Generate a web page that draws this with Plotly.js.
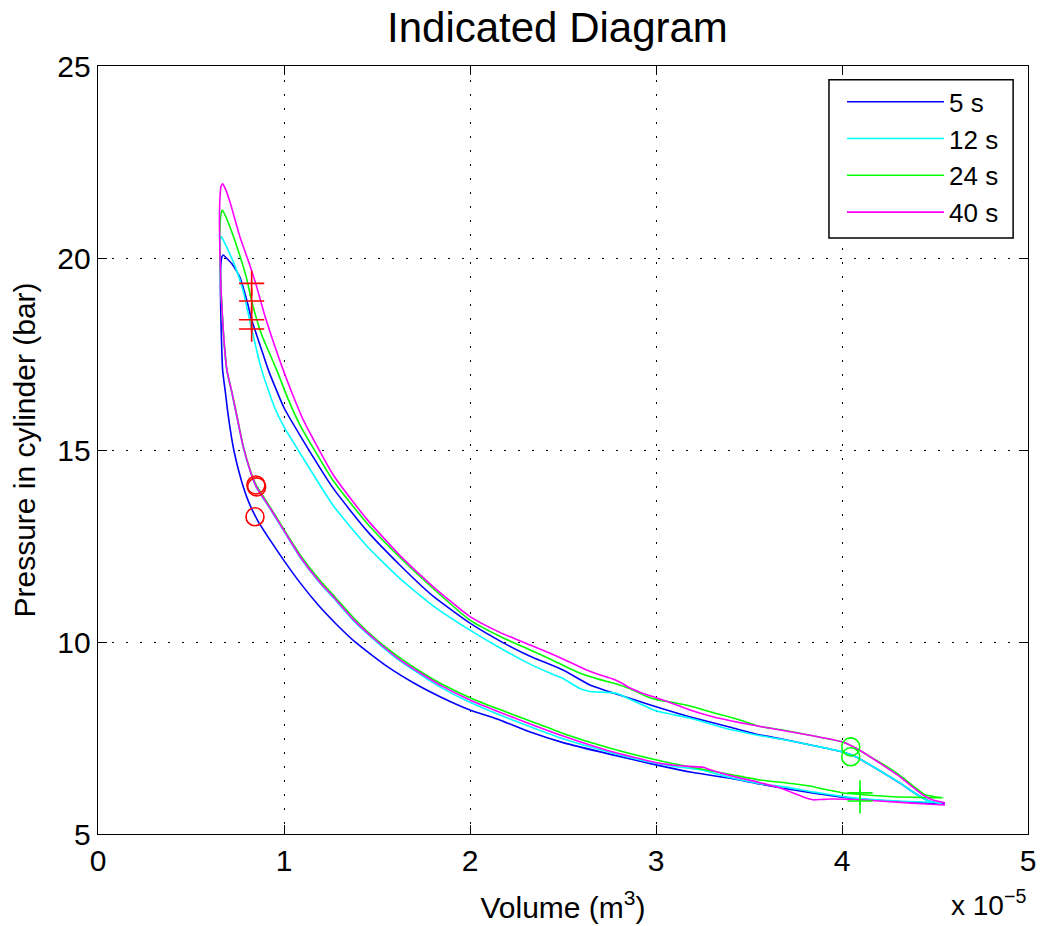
<!DOCTYPE html>
<html>
<head>
<meta charset="utf-8">
<script src="https://cdn.plot.ly/plotly-3.0.1.min.js"></script>
<style>html,body{margin:0;padding:0;background:#fff}#chart{width:1040px;height:926px}</style>
</head>
<body>
<div id="chart"></div>
<script>
// Volume in units of 1e-5 m^3, pressure in bar
const names = ['5 s', '12 s', '24 s', '40 s'];
const colors = ['#0000ff', '#00ffff', '#00ff00', '#ff00ff'];

const v5 = [4.55,4.50,4.40,4.25,4.10,4.00,3.85,3.70,3.56,3.40,3.20,3.00,2.75,2.50,2.32,2.16,2.00,1.85,1.71,1.55,1.38,1.28,1.19,1.09,1.00,0.93,0.86,0.81,0.77,0.73,0.70,0.685,0.670,0.662,0.658,0.660,0.666,0.674,
  0.69,0.72,0.763,0.80,0.826,0.87,0.916,1.00,1.09,1.265,1.445,1.624,1.80,2.00,2.16,2.32,2.50,2.645,2.77,2.88,3.00,3.18,3.40,3.56,3.67,3.85,4.00,4.08,4.15,4.23,4.31,4.38,4.455,4.51,4.55];
const p5 = [5.79,5.80,5.82,5.86,5.91,5.96,6.06,6.18,6.30,6.45,6.60,6.80,7.08,7.38,7.66,7.97,8.23,8.55,8.90,9.38,10.01,10.47,10.93,11.52,12.12,12.62,13.15,13.65,14.22,15.0,15.9,16.5,17.08,18.2,19.2,19.8,20.03,20.08,
  20.0,19.85,19.5,18.9,18.39,17.75,17.08,16.1,15.35,14.0,12.9,12.0,11.2,10.49,10.03,9.635,9.27,8.88,8.67,8.50,8.315,8.055,7.78,7.578,7.48,7.30,7.143,7.0,6.80,6.57,6.33,6.10,5.885,5.807,5.79];

const v12 = [4.54,4.40,4.25,4.10,4.00,3.85,3.70,3.56,3.40,3.25,3.10,3.00,2.75,2.50,2.32,2.16,2.00,1.85,1.75,1.62,1.505,1.38,1.265,1.194,1.09,1.00,0.93,0.85,0.817,0.78,0.75,0.72,0.693,0.675,0.663,0.656,0.655,0.658,0.664,
  0.675,0.70,0.74,0.78,0.826,0.88,0.95,1.00,1.086,1.265,1.445,1.624,1.80,2.00,2.16,2.32,2.43,2.50,2.59,2.645,2.72,2.79,2.86,3.00,3.18,3.40,3.56,3.667,3.85,4.00,4.08,4.151,4.23,4.312,4.38,4.455,4.509,4.54];
const p12 = [5.82,5.84,5.87,5.92,5.98,6.09,6.22,6.31,6.47,6.66,6.76,6.84,7.13,7.48,7.80,8.10,8.43,8.80,9.10,9.52,9.97,10.52,11.15,11.53,12.18,12.88,13.43,14.04,14.46,15.08,15.78,16.48,17.06,17.98,18.98,19.9,20.3,20.5,20.55,
  20.45,20.2,19.75,19.15,18.15,17.08,16.1,15.6,14.92,13.55,12.5,11.65,10.95,10.31,9.85,9.43,9.19,9.05,8.79,8.71,8.69,8.66,8.51,8.21,8.02,7.72,7.56,7.474,7.30,7.143,7.0,6.80,6.57,6.33,6.10,5.885,5.807,5.80];

const v24 = [4.543,4.40,4.274,4.15,4.05,3.998,3.90,3.828,3.70,3.559,3.40,3.20,3.004,2.75,2.50,2.32,2.16,2.00,1.85,1.75,1.62,1.505,1.38,1.265,1.194,1.09,1.00,0.93,0.85,0.817,0.78,0.75,0.72,0.693,0.675,0.663,0.656,0.655,0.66,0.668,
  0.685,0.71,0.75,0.80,0.826,0.88,0.961,1.02,1.086,1.265,1.445,1.624,1.80,2.00,2.16,2.32,2.43,2.59,2.70,2.77,2.86,2.95,3.004,3.10,3.183,3.30,3.45,3.56,3.667,3.85,4.00,4.08,4.151,4.24,4.322,4.39,4.445,4.50,4.543];
const p24 = [5.94,5.955,5.971,6.01,6.05,6.076,6.17,6.25,6.33,6.406,6.55,6.73,6.927,7.24,7.62,7.95,8.24,8.55,8.9,9.18,9.6,10.03,10.6,11.22,11.6,12.25,12.93,13.48,14.09,14.5,15.12,15.82,16.5,17.08,18.0,19.0,20.0,20.7,21.1,21.25,
  21.1,20.8,20.25,19.45,18.88,18.0,17.08,16.35,15.65,14.2,13.1,12.2,11.4,10.57,10.15,9.80,9.56,9.19,9.02,8.93,8.78,8.58,8.50,8.42,8.333,8.17,7.97,7.80,7.72,7.55,7.40,7.22,7.013,6.76,6.49,6.22,6.02,5.97,5.94];

const v40 = [4.554,4.45,4.30,4.10,3.94,3.89,3.844,3.80,3.737,3.667,3.56,3.40,3.30,3.253,3.18,3.10,3.004,2.75,2.50,2.32,2.16,2.00,1.85,1.75,1.62,1.505,1.38,1.265,1.194,1.09,1.00,0.93,0.85,0.817,0.78,0.75,0.72,0.693,0.675,0.663,0.656,0.653,0.655,0.661,0.67,
  0.685,0.71,0.763,0.81,0.85,0.90,0.996,1.05,1.104,1.265,1.445,1.624,1.80,2.00,2.16,2.323,2.43,2.50,2.627,2.70,2.769,2.82,2.86,2.93,3.004,3.10,3.183,3.30,3.45,3.56,3.667,3.85,4.00,4.08,4.151,4.23,4.312,4.38,4.435,4.489,4.554];
const p40 = [5.755,5.78,5.83,5.89,5.91,5.90,5.89,5.95,6.07,6.20,6.336,6.52,6.66,6.74,6.76,6.79,6.857,7.16,7.55,7.87,8.17,8.49,8.85,9.14,9.55,10.0,10.55,11.18,11.55,12.2,12.9,13.45,14.05,14.48,15.1,15.8,16.5,17.08,18.0,19.0,20.0,20.9,21.5,21.85,21.93,
  21.8,21.45,20.55,19.9,19.3,18.45,17.08,16.4,15.78,14.35,13.2,12.25,11.45,10.66,10.25,9.92,9.71,9.56,9.27,9.14,9.036,8.92,8.80,8.66,8.542,8.38,8.229,8.06,7.90,7.80,7.71,7.55,7.40,7.22,7.013,6.76,6.49,6.22,6.016,5.885,5.81];

// event markers
const redPlusV = [0.826, 0.826, 0.826, 0.826];
const redPlusP = [19.34, 18.88, 18.39, 18.15];
const redCircV = [0.849, 0.853, 0.844];
const redCircP = [14.09, 14.04, 13.26];
const greenCircV = [4.047, 4.047];
const greenCircP = [7.27, 7.01];
const greenPlusV = [4.097, 4.097];
const greenPlusP = [6.07, 5.86];

const xTicks = [0, 1, 2, 3, 4, 5];
const yTicks = [5, 10, 15, 20, 25];

const font = 'Liberation Sans, Arial, Helvetica, sans-serif';
const series = [[v5,p5],[v12,p12],[v24,p24],[v40,p40]];
const traces = series.map((s, i) => ({
  x: s[0], y: s[1], type: 'scatter', mode: 'lines', name: names[i],
  line: {color: colors[i], width: 1.6, shape: 'spline', smoothing: 0.5}
}));
function mk(x, y, sym, col) {
  return {x: x, y: y, type: 'scatter', mode: 'markers', showlegend: false, hoverinfo: 'skip',
    marker: {symbol: sym, size: 18, color: col, line: {color: col, width: 1.6}}};
}
traces.push(mk(redPlusV, redPlusP, 'cross-thin-open', '#ff0000'));
traces.push(mk(redCircV, redCircP, 'circle-open', '#ff0000'));
traces.push(mk(greenCircV, greenCircP, 'circle-open', '#00ff00'));
traces.push(mk(greenPlusV, greenPlusP, 'cross-thin-open', '#00ff00'));

const axisCommon = {
  showline: true, linecolor: '#000', linewidth: 1.3, mirror: 'ticks',
  ticks: 'inside', ticklen: 9, tickwidth: 1, tickcolor: '#000',
  showgrid: true, gridcolor: '#000', gridwidth: 1, griddash: '2px,12px',
  zeroline: false, tickfont: {family: font, size: 30, color: '#000'}
};

const layout = {
  width: 1040, height: 926,
  margin: {l: 98, r: 12, t: 66, b: 92},
  paper_bgcolor: '#fff', plot_bgcolor: '#fff',
  title: {text: 'Indicated Diagram', font: {family: font, size: 42, color: '#000'}, x: 0.536, xanchor: 'center', y: 0.971, yanchor: 'middle'},
  xaxis: Object.assign({}, axisCommon, {range: [0, 5], tickvals: xTicks, ticktext: xTicks.map(String),
    title: {text: 'Volume (m<sup>3</sup>)', font: {family: font, size: 30, color: '#000'}, standoff: 20}}),
  yaxis: Object.assign({}, axisCommon, {range: [5, 25], tickvals: yTicks, ticktext: yTicks.map(String),
    title: {text: 'Pressure in cylinder (bar)', font: {family: font, size: 30, color: '#000'}, standoff: 12}}),
  legend: {x: 0.8, xanchor: 'left', y: 0.984, yanchor: 'top', bgcolor: 'rgba(0,0,0,0)', borderwidth: 0,
    font: {family: font, size: 26, color: '#000'}, itemwidth: 97, tracegroupgap: 0},
  shapes: [{type: 'rect', xref: 'paper', yref: 'paper', x0: 0.786, x1: 0.984, y0: 0.776, y1: 0.982,
    line: {color: '#000', width: 1.5}, fillcolor: '#fff', layer: 'above'}],
  annotations: [{xref: 'paper', yref: 'paper', x: 1.0, y: -0.116, xanchor: 'right', yanchor: 'bottom', showarrow: false,
    text: 'x 10<sup>\u22125</sup>', font: {family: font, size: 28, color: '#000'}}],
  showlegend: true
};

Plotly.newPlot('chart', traces, layout, {displayModeBar: false, staticPlot: true});
</script>
</body>
</html>
